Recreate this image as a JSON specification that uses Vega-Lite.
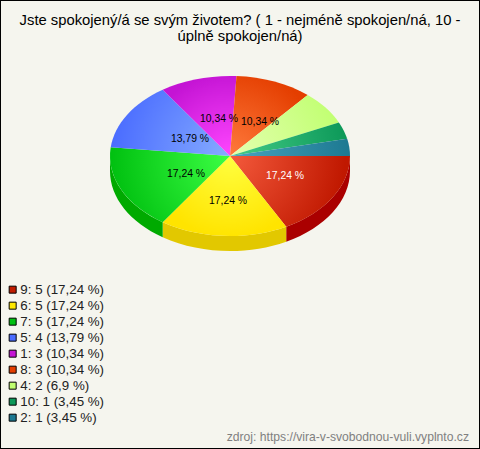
{
"$schema":"https://vega.github.io/schema/vega-lite/v6.json",
"width":480,"height":449,"padding":0,"autosize":"none",
"background":"#f5f5ee",
"view":{"stroke":"#000000","strokeWidth":2,"fill":"#f5f5ee"},
"config":{"font":"Liberation Sans"},
"title":{"text":["Jste spokojený/á se svým životem? ( 1 - nejméně spokojen/ná, 10 -","úplně spokojen/ná)"],"anchor":"middle","font":"Liberation Sans","fontSize":14.8,"fontWeight":"normal","color":"#000","lineHeight":16,"offset":-56,"baseline":"alphabetic"},
"datasets":{"odpovedi":[
{"odpoved":"9","pocet":5,"podil":"17,24 %","popisek":"9: 5 (17,24 %)"},
{"odpoved":"6","pocet":5,"podil":"17,24 %","popisek":"6: 5 (17,24 %)"},
{"odpoved":"7","pocet":5,"podil":"17,24 %","popisek":"7: 5 (17,24 %)"},
{"odpoved":"5","pocet":4,"podil":"13,79 %","popisek":"5: 4 (13,79 %)"},
{"odpoved":"1","pocet":3,"podil":"10,34 %","popisek":"1: 3 (10,34 %)"},
{"odpoved":"8","pocet":3,"podil":"10,34 %","popisek":"8: 3 (10,34 %)"},
{"odpoved":"4","pocet":2,"podil":"6,9 %","popisek":"4: 2 (6,9 %)"},
{"odpoved":"10","pocet":1,"podil":"3,45 %","popisek":"10: 1 (3,45 %)"},
{"odpoved":"2","pocet":1,"podil":"3,45 %","popisek":"2: 1 (3,45 %)"}
]},
"data":{"name":"odpovedi"},
"resolve":{"scale":{"color":"independent","shape":"independent"},"legend":{"color":"independent"}},
"layer":[
{"transform":[{"filter":"datum.odpoved==='9'||datum.odpoved==='6'||datum.odpoved==='7'"}],
 "mark":{"type":"point","filled":true,"size":4,"opacity":1},
 "encoding":{
  "color":{"field":"odpoved","type":"nominal","legend":null,"scale":{"domain":["9","6","7"],"range":["#aa0000","#e2c800","#00aa00"]}},
  "shape":{"field":"odpoved","type":"nominal","legend":null,"scale":{"domain":["9","6","7"],"range":[
   "M110 -68.5 C110 -38.9 85.5 -11.7 46.2 2.2 L46.2 17.2 C85.5 3.3 110 -23.9 110 -53.5 Z",
   "M46.2 2.2 C6.95 16.1 -40.5 14.3 -77.3 -2.3 L-77.3 12.7 C-40.5 29.3 6.95 31.1 46.2 17.2 Z",
   "M-77.3 -2.3 C-110.2 -17.2 -130 -42 -130 -68.5 L-130 -53.5 C-130 -27 -110.2 -2.2 -77.3 12.7 Z"
  ]}}
 }},
{"mark":{"type":"point","filled":true,"size":4,"opacity":1,
  "fill":{"expr":"{'9':{gradient:'radial',x1:0,y1:0.205,r1:0,x2:0,y2:0.205,r2:0.96,stops:[{offset:0,color:'#f45a3c'},{offset:1,color:'#c01800'}]},'6':{gradient:'radial',x1:0.545,y1:0.176,r1:0,x2:0.545,y2:0.176,r2:0.66,stops:[{offset:0,color:'#ffff40'},{offset:1,color:'#ffe400'}]},'7':{gradient:'radial',x1:1,y1:0.26,r1:0,x2:1,y2:0.26,r2:1,stops:[{offset:0,color:'#3cff44'},{offset:1,color:'#00c010'}]},'5':{gradient:'radial',x1:1,y1:0.777,r1:0,x2:1,y2:0.777,r2:1,stops:[{offset:0,color:'#86acff'},{offset:1,color:'#4a6cff'}]},'1':{gradient:'radial',x1:0.88,y1:1,r1:0,x2:0.88,y2:1,r2:1.06,stops:[{offset:0,color:'#ff46ff'},{offset:1,color:'#c414d4'}]},'8':{gradient:'radial',x1:0.014,y1:1,r1:0,x2:0.014,y2:1,r2:1.13,stops:[{offset:0,color:'#ff7a3c'},{offset:1,color:'#e43e00'}]},'4':{gradient:'radial',x1:0,y1:0.78,r1:0,x2:0,y2:0.78,r2:1.06,stops:[{offset:0,color:'#e4ffb0'},{offset:1,color:'#c0ff70'}]},'10':{gradient:'radial',x1:0,y1:0.643,r1:0,x2:0,y2:0.643,r2:1.02,stops:[{offset:0,color:'#44cc88'},{offset:1,color:'#0c9858'}]},'2':{gradient:'radial',x1:0,y1:0.572,r1:0,x2:0,y2:0.572,r2:1.02,stops:[{offset:0,color:'#48a4c0'},{offset:1,color:'#1c7890'}]}}[datum.odpoved]"}},
 "encoding":{
  "shape":{"field":"odpoved","type":"nominal","legend":null,"scale":{"domain":["9","6","7","5","1","8","4","10","2"],"range":[
   "M-10 -68.5 L110 -68.5 C110 -38.9 85.5 -11.7 46.2 2.2 Z",
   "M-10 -68.5 L46.2 2.2 C6.95 16.1 -40.5 14.3 -77.3 -2.3 Z",
   "M-10 -68.5 L-77.3 -2.3 C-114.1 -18.9 -134.1 -47.8 -129.3 -77.2 Z",
   "M-10 -68.5 L-129.3 -77.2 C-125.5 -100.5 -106.4 -121.5 -77.3 -134.7 Z",
   "M-10 -68.5 L-77.3 -134.7 C-55.6 -144.5 -29.7 -149.3 -3.5 -148.4 Z",
   "M-10 -68.5 L-3.5 -148.4 C22.7 -147.5 47.7 -140.8 67.7 -129.5 Z",
   "M-10 -68.5 L67.7 -129.5 C81 -122 91.6 -112.6 98.9 -102.1 Z",
   "M-10 -68.5 L98.9 -102.1 C102.5 -96.9 105.3 -91.3 107.2 -85.7 Z",
   "M-10 -68.5 L107.2 -85.7 C109.1 -80.1 110 -74.3 110 -68.5 Z"
  ]}}
 }},
{"transform":[{"filter":"datum.pocet>=3"}],
 "mark":{"type":"text","font":"Liberation Sans","fontSize":10.4,"align":"center","baseline":"middle",
  "dx":{"expr":"{'9':45,'6':-12,'7':-54,'5':-50,'1':-21,'8':20}[datum.odpoved]"},
  "dy":{"expr":"{'9':-48.5,'6':-23.5,'7':-50.5,'5':-85.5,'1':-105.5,'8':-102.5}[datum.odpoved]"}},
 "encoding":{
  "text":{"field":"podil","type":"nominal"},
  "color":{"condition":{"test":"datum.odpoved==='9'","value":"#ffffff"},"value":"#000000"}
 }},
{"mark":{"type":"point","filled":true,"size":1,"opacity":0},
 "encoding":{
  "color":{"field":"popisek","type":"nominal",
   "scale":{"domain":["9: 5 (17,24 %)","6: 5 (17,24 %)","7: 5 (17,24 %)","5: 4 (13,79 %)","1: 3 (10,34 %)","8: 3 (10,34 %)","4: 2 (6,9 %)","10: 1 (3,45 %)","2: 1 (3,45 %)"],
    "range":["#c01c00","#ffe800","#00c010","#4a6cff","#c414d4","#e43e00","#c0ff70","#0c9858","#1c7890"]},
   "legend":{"title":null,"orient":"none","legendX":6,"legendY":283,"symbolType":"square","symbolSize":49,"symbolOpacity":1,"symbolStrokeColor":"#000","symbolStrokeWidth":1,"labelFont":"Liberation Sans","labelFontSize":13.33,"labelColor":"#222","labelOffset":1,"rowPadding":2,"padding":0,"labelLimit":200}}
 }},
{"data":{"values":[{"zdroj":"zdroj: https://vira-v-svobodnou-vuli.vyplnto.cz"}]},
 "mark":{"type":"text","font":"Liberation Sans","fontSize":12.15,"color":"#808080","align":"right","baseline":"alphabetic","x":{"expr":"width-11"},"y":{"expr":"height-8"}},
 "encoding":{"text":{"field":"zdroj","type":"nominal"}}}
]
}
